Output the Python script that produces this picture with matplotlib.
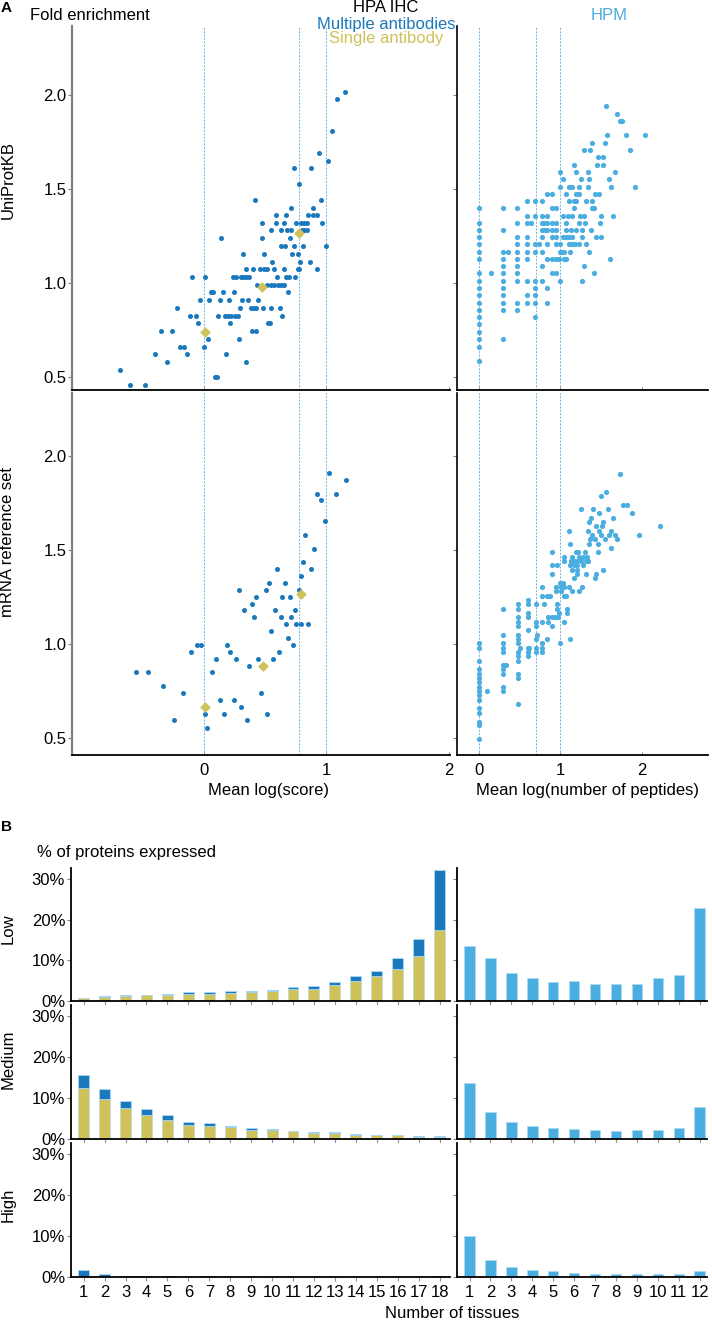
import matplotlib
matplotlib.use("Agg")
import matplotlib.pyplot as plt
import numpy as np

plt.rcParams['font.family'] = ['Liberation Sans', 'DejaVu Sans']

# ---------------- DATA ----------------
# Panel A, HPA IHC (multiple antibodies), UniProtKB rows: y value -> x values
hpa_uni_y = [2.016, 1.977, 1.81, 1.69, 1.647, 1.61, 1.527, 1.443, 1.40, 1.36, 1.32, 1.28,
             1.238, 1.197, 1.156, 1.113, 1.073, 1.032, 0.991, 0.95, 0.908, 0.867, 0.826,
             0.785, 0.744, 0.702, 0.661, 0.621, 0.58, 0.539, 0.498, 0.457]
hpa_uni_x = [[1.148], [1.09], [1.047], [0.937], [1.016], [0.732, 0.872], [0.779],
             [0.413, 0.953], [0.708, 0.893], [0.585, 0.667, 0.85, 0.893, 0.923],
             [0.47, 0.585, 0.65, 0.75, 0.795, 0.82, 0.84, 0.967],
             [0.549, 0.631, 0.678, 0.708, 0.80, 0.82, 0.84],
             [0.139, 0.475, 0.699], [0.628, 0.658, 0.738, 0.811, 0.992],
             [0.32, 0.489, 0.719, 0.768], [0.557, 0.787, 0.861],
             [0.344, 0.396, 0.456, 0.492, 0.514, 0.574, 0.653, 0.768, 0.779, 0.921],
             [-0.098, 0.008, 0.232, 0.262, 0.30, 0.32, 0.344, 0.369, 0.593, 0.669, 0.694, 0.746],
             [0.434, 0.514, 0.549, 0.574, 0.60, 0.628, 0.65],
             [0.052, 0.074, 0.153, 0.246, 0.689],
             [-0.033, 0.041, 0.126, 0.20, 0.311, 0.355, 0.44],
             [-0.224, 0.292, 0.38, 0.404, 0.423, 0.478, 0.543, 0.617],
             [-0.12, -0.068, 0.115, 0.167, 0.194, 0.22, 0.251, 0.275, 0.636],
             [-0.049, 0.21, 0.525, 0.54], [-0.355, -0.262, 0.39, 0.425], [0.027, 0.284],
             [-0.197, -0.17, 0.0], [-0.407, -0.139, 0.175], [-0.303, 0.342], [-0.689],
             [0.085, 0.107], [-0.612, -0.489]]
hpa_uni_single_x = [0.005, 0.475, 0.773]
hpa_uni_single_y = [0.74, 0.98, 1.265]

# Panel A, HPA IHC, mRNA reference set
hpa_mrna_y = [1.911, 1.874, 1.80, 1.764, 1.654, 1.58, 1.507, 1.435, 1.399, 1.362, 1.324,
              1.289, 1.252, 1.214, 1.179, 1.142, 1.105, 1.068, 1.032, 0.995, 0.959, 0.922,
              0.885, 0.849, 0.775, 0.739, 0.702, 0.665, 0.628, 0.595, 0.555]
hpa_mrna_x = [[1.022], [1.158], [0.926, 1.074], [0.953], [0.984], [0.828], [0.896], [0.806],
              [0.593, 0.872], [0.79], [0.533, 0.658], [0.281, 0.503, 0.773],
              [0.421, 0.639, 0.702], [0.388], [0.328, 0.578, 0.743], [0.404, 0.626, 0.713],
              [0.672, 0.754, 0.79, 0.85], [0.547], [0.686], [-0.063, -0.025, 0.189, 0.727],
              [-0.112, 0.213, 0.609], [0.096, 0.26, 0.437, 0.563], [0.366],
              [-0.557, -0.459, 0.063], [-0.342], [-0.175, 0.461], [0.126, 0.24], [0.303],
              [0.005, 0.158, 0.516], [-0.251, 0.349], [0.025]]
hpa_mrna_single_x = [0.005, 0.484, 0.79]
hpa_mrna_single_y = [0.665, 0.885, 1.266]

# Panel A, HPM, UniProtKB
hpm_uni_y = [1.939, 1.900, 1.863, 1.785, 1.746, 1.708, 1.669, 1.630, 1.591, 1.552, 1.513,
             1.476, 1.437, 1.398, 1.359, 1.320, 1.283, 1.244, 1.205, 1.166, 1.127, 1.090,
             1.051, 1.012, 0.973, 0.934, 0.895, 0.858, 0.819, 0.780, 0.741, 0.701, 0.662, 0.586]
hpm_uni_x = [[1.562], [1.693], [1.734, 1.763], [1.579, 1.808, 2.037], [1.387, 1.546],
             [1.297, 1.366, 1.861], [1.468, 1.530], [1.170, 1.448, 1.521],
             [0.994, 1.198, 1.337, 1.669], [1.031, 1.252, 1.358, 1.599],
             [0.994, 1.108, 1.145, 1.227, 1.337, 1.628, 1.922],
             [0.843, 0.900, 1.072, 1.198, 1.227, 1.427, 1.481],
             [0.597, 0.695, 0.773, 1.108, 1.166, 1.194, 1.321, 1.391],
             [0.0, 0.294, 0.474, 0.904, 0.949, 1.170, 1.395, 1.419],
             [0.597, 0.695, 0.773, 0.843, 1.035, 1.100, 1.149, 1.243, 1.292, 1.501, 1.648],
             [0.0, 0.474, 0.597, 0.642, 0.773, 0.802, 0.834, 0.900, 0.949, 1.067, 1.227, 1.309, 1.489],
             [0.0, 0.294, 0.773, 0.814, 0.834, 0.900, 0.949, 1.067, 1.137, 1.194, 1.272, 1.374],
             [0.0, 0.474, 0.597, 0.773, 0.900, 0.949, 1.031, 1.072, 1.104, 1.149, 1.272, 1.444, 1.505],
             [0.0, 0.474, 0.597, 0.695, 0.744, 0.843, 0.949, 0.994, 1.108, 1.145, 1.186, 1.227, 1.317],
             [0.0, 0.294, 0.364, 0.474, 0.597, 0.695, 0.773, 0.994, 1.022, 1.051, 1.121, 1.358],
             [0.0, 0.294, 0.474, 0.597, 0.843, 0.900, 0.949, 0.990, 1.043, 1.072, 1.616],
             [0.294, 0.474, 0.773, 1.297],
             [0.0, 0.147, 0.294, 0.474, 0.900, 0.949, 1.411],
             [0.0, 0.294, 0.474, 0.597, 0.695, 0.773, 0.994, 1.272],
             [0.0, 0.294, 0.695, 0.843], [0.0, 0.294, 0.597, 0.695],
             [0.0, 0.294, 0.474, 0.597, 0.695, 0.843], [0.0, 0.294, 0.474], [0.0, 0.695],
             [0.0], [0.0], [0.0, 0.294], [0.0], [0.0]]

# Panel A, HPM, mRNA reference set
hpm_mrna_y = [1.902, 1.809, 1.787, 1.741, 1.718, 1.695, 1.672, 1.649, 1.626, 1.603, 1.580,
              1.557, 1.534, 1.511, 1.488, 1.465, 1.441, 1.418, 1.395, 1.372, 1.349, 1.326,
              1.303, 1.280, 1.257, 1.234, 1.211, 1.188, 1.165, 1.142, 1.119, 1.096, 1.073,
              1.050, 1.027, 1.004, 0.980, 0.957, 0.934, 0.911, 0.888, 0.865, 0.842, 0.819,
              0.796, 0.773, 0.750, 0.727, 0.704, 0.681, 0.658, 0.635, 0.587, 0.569, 0.495]
hpm_mrna_x = [[1.734], [1.562], [1.501], [1.767, 1.820], [1.260, 1.407, 1.583], [1.476, 1.881],
              [1.378, 1.652], [1.350, 1.530], [1.444, 1.513, 2.225], [1.112, 1.342, 1.476, 1.628],
              [1.391, 1.497, 1.603, 1.677, 1.971], [1.362, 1.431, 1.546, 1.701],
              [1.117, 1.358, 1.464], [1.620], [0.904, 1.198, 1.219, 1.301, 1.460],
              [1.043, 1.149, 1.235, 1.280, 1.333],
              [1.043, 1.129, 1.170, 1.207, 1.256, 1.313, 1.342],
              [0.904, 0.957, 1.117, 1.170, 1.211, 1.276], [1.149, 1.202, 1.521],
              [0.904, 1.202, 1.321, 1.440], [1.174, 1.427], [0.994, 1.039],
              [0.781, 0.953, 1.006, 1.051, 1.104, 1.272], [0.953, 1.006, 1.145, 1.235],
              [0.781, 0.843, 0.871, 1.047, 1.072], [0.601],
              [0.479, 0.601, 0.703, 0.806, 0.957], [0.303, 0.479, 0.957, 1.080],
              [0.601, 0.990, 1.080], [0.479, 0.601, 0.847, 0.900, 0.933, 0.973],
              [0.479, 0.703, 0.777, 0.847, 1.043], [0.479, 0.703, 0.900], [0.601],
              [0.303, 0.479, 0.712], [0.479, 0.703, 0.843, 1.117],
              [0.0, 0.303, 0.479, 0.777, 1.002], [0.0, 0.303, 0.503, 0.601, 0.622, 0.703, 0.777],
              [0.303, 0.479, 0.601, 0.703, 0.777], [0.479, 0.601], [0.0, 0.479],
              [0.303, 0.331], [0.0, 0.303], [0.0, 0.303, 0.479], [0.0, 0.479], [0.0],
              [0.0, 0.303], [0.0, 0.102, 0.303], [0.0], [0.0], [0.479], [0.0], [0.0],
              [0.0], [0.0], [0.0]]

hpa_guides = [0.0, 0.778, 1.0]
hpm_guides = [0.0, 0.699, 1.0]

# Panel B: % of proteins expressed
hpa_tissues = list(range(1, 19))
low_total = [0.8, 1.2, 1.6, 1.6, 1.8, 2.1, 2.2, 2.4, 2.5, 2.8, 3.4, 3.7, 4.8, 6.1, 7.5, 10.5, 15.3, 32.4]
low_single = [0.7, 1.0, 1.3, 1.5, 1.6, 1.7, 1.8, 2.0, 2.1, 2.4, 2.9, 3.0, 4.0, 4.9, 6.2, 8.0, 11.0, 17.5]
med_total = [15.6, 12.2, 9.2, 7.3, 5.8, 4.2, 3.9, 3.3, 2.6, 2.4, 2.0, 1.7, 1.6, 1.2, 1.0, 1.0, 0.65, 0.7]
med_single = [12.6, 9.9, 7.5, 5.9, 4.7, 3.4, 3.3, 2.9, 2.2, 2.1, 1.9, 1.5, 1.4, 1.1, 0.9, 0.9, 0.5, 0.4]
high_total = [1.7, 0.75, 0.3, 0.25, 0.2, 0.12, 0.15, 0.12, 0.12, 0.1, 0.12, 0.12, 0.12, 0.1, 0.1, 0.1, 0.1, 0.15]
high_single = [0.05, 0.03, 0.02, 0.02, 0.02, 0.02, 0.02, 0.02, 0.02, 0.02, 0.02, 0.02, 0.02, 0.02, 0.02, 0.02, 0.02, 0.02]

hpm_tissues = list(range(1, 13))
hpm_low = [13.5, 10.7, 7.0, 5.7, 4.8, 5.0, 4.2, 4.2, 4.1, 5.7, 6.4, 23.0]
hpm_med = [13.8, 6.6, 4.2, 3.3, 2.6, 2.4, 2.1, 2.0, 2.1, 2.3, 2.6, 7.8]
hpm_high = [10.0, 4.2, 2.4, 1.7, 1.35, 0.9, 0.7, 0.7, 0.7, 0.7, 0.85, 1.5]

# ---------------- STYLE ----------------
C_MULTI = '#1b78bd'
C_SINGLE = '#cfc25a'
C_HPM = '#4aaee0'
C_GUIDE = '#6cb6df'
C_EDGE = '#a9daf2'
FS = 12

W, H = 712, 1323
fig = plt.figure(figsize=(W / 100, H / 100), dpi=100)


def ax_px(x0, y0, x1, y1):
    return fig.add_axes([x0 / W, 1 - y1 / H, (x1 - x0) / W, (y1 - y0) / H])


def txt(x, y, s, **kw):
    fig.text(x / W, 1 - y / H, s, **kw)


def flatten(ys, xs):
    fx, fy = [], []
    for y, row in zip(ys, xs):
        for x in row:
            fx.append(x)
            fy.append(y)
    return fx, fy


def style_scatter(ax, left_gray):
    for s in ['top', 'right']:
        ax.spines[s].set_visible(False)
    ax.spines['left'].set_color('#808080' if left_gray else 'black')
    ax.spines['left'].set_linewidth(1.6 if left_gray else 1.2)
    ax.spines['bottom'].set_color('black')
    ax.spines['bottom'].set_linewidth(1.3)
    ax.tick_params(axis='y', direction='out', length=3, color='#808080', labelsize=FS, pad=1)
    ax.tick_params(axis='x', direction='in', length=2, color='#808080', labelsize=FS, pad=6)


# Scatter panels
tl = ax_px(72, 26, 450, 390)
bl = ax_px(72, 393, 450, 755)
tr = ax_px(457, 26, 708, 390)
br = ax_px(457, 393, 708, 755)

for ax, ys, xs, sx, sy in [(tl, hpa_uni_y, hpa_uni_x, hpa_uni_single_x, hpa_uni_single_y),
                           (bl, hpa_mrna_y, hpa_mrna_x, hpa_mrna_single_x, hpa_mrna_single_y)]:
    for g in hpa_guides:
        ax.axvline(g, color=C_GUIDE, lw=0.7, ls=(0, (2, 1.5)), zorder=1)
    fx, fy = flatten(ys, xs)
    ax.scatter(fx, fy, s=13, color=C_MULTI, linewidths=0, zorder=3)
    ax.scatter(sx, sy, s=30, marker='D', color=C_SINGLE, linewidths=0, zorder=4)
    ax.set_xlim(-1.083, 2.011)
    style_scatter(ax, True)

for ax, ys, xs in [(tr, hpm_uni_y, hpm_uni_x), (br, hpm_mrna_y, hpm_mrna_x)]:
    for g in hpm_guides:
        ax.axvline(g, color=C_GUIDE, lw=0.7, ls=(0, (2, 1.5)), zorder=1)
    fx, fy = flatten(ys, xs)
    ax.scatter(fx, fy, s=14, color=C_HPM, linewidths=0, zorder=3)
    ax.set_xlim(-0.266, 2.813)
    style_scatter(ax, False)

tl.set_ylim(0.431, 2.367)
tr.set_ylim(0.431, 2.367)
bl.set_ylim(0.41, 2.335)
br.set_ylim(0.41, 2.335)
for ax in (tl, tr, bl, br):
    ax.set_yticks([0.5, 1.0, 1.5, 2.0])
    ax.set_xticks([0, 1, 2])
for ax in (tl, bl):
    ax.set_yticklabels(['0.5', '1.0', '1.5', '2.0'])
for ax in (tr, br):
    ax.set_yticklabels([])
for ax in (tl, tr):
    ax.set_xticklabels([])
bl.set_xticklabels(['0', '1', '2'])
br.set_xticklabels(['0', '1', '2'])

# Bar panels
rows_left = [(868, 1001), (1005, 1139), (1143, 1277)]
left_data = [(low_total, low_single), (med_total, med_single), (high_total, high_single)]
right_data = [hpm_low, hpm_med, hpm_high]
YMAX = 32.8


def style_bar(ax, show_ylabels):
    for s in ['top', 'right']:
        ax.spines[s].set_visible(False)
    ax.spines['left'].set_color('black')
    ax.spines['left'].set_linewidth(1.3)
    ax.spines['bottom'].set_color('black')
    ax.spines['bottom'].set_linewidth(1.3)
    ax.set_ylim(0, YMAX)
    ax.set_yticks([0, 10, 20, 30])
    if show_ylabels:
        ax.set_yticklabels(['0%', '10%', '20%', '30%'])
    else:
        ax.set_yticklabels([])
    ax.tick_params(axis='y', direction='out', length=3, color='#808080', labelsize=FS, pad=1)
    ax.tick_params(axis='x', direction='out', length=3, color='#909090', labelsize=FS, pad=3)


for i, (y0, y1) in enumerate(rows_left):
    axl = ax_px(70.7, y0, 450, y1)
    tot, sing = left_data[i]
    multi = [t - s for t, s in zip(tot, sing)]
    axl.bar(hpa_tissues, sing, width=0.52, color=C_SINGLE, edgecolor=C_EDGE, linewidth=0.4, zorder=2)
    axl.bar(hpa_tissues, multi, bottom=sing, width=0.52, color=C_MULTI, edgecolor=C_EDGE,
            linewidth=0.6, zorder=2)
    axl.set_xlim(0.38, 18.5)
    axl.set_xticks(hpa_tissues)
    style_bar(axl, True)
    if i < 2:
        axl.set_xticklabels([])
    else:
        axl.set_xticklabels([str(t) for t in hpa_tissues])

    axr = ax_px(457, y0, 707, y1)
    axr.bar(hpm_tissues, right_data[i], width=0.5, color=C_HPM, edgecolor=C_EDGE, linewidth=0.6,
            zorder=2)
    axr.set_xlim(0.4, 12.35)
    axr.set_xticks(hpm_tissues)
    style_bar(axr, False)
    if i < 2:
        axr.set_xticklabels([])
    else:
        axr.set_xticklabels([str(t) for t in hpm_tissues])

# Texts
txt(1, 8, 'A', fontsize=11, fontweight='bold', ha='left', va='center')
txt(30, 16, 'Fold enrichment', fontsize=FS, ha='left', va='center')
txt(386, 7, 'HPA IHC', fontsize=FS, ha='center', va='center')
txt(386, 24, 'Multiple antibodies', fontsize=FS, ha='center', va='center', color=C_MULTI)
txt(386, 39, 'Single antibody', fontsize=FS, ha='center', va='center', color=C_SINGLE)
txt(609, 16, 'HPM', fontsize=FS, ha='center', va='center', color=C_HPM)
txt(8, 180, 'UniProtKB', fontsize=FS, ha='center', va='center', rotation=90)
txt(8, 542, 'mRNA reference set', fontsize=FS, ha='center', va='center', rotation=90)
txt(268, 791, 'Mean log(score)', fontsize=FS, ha='center', va='center')
txt(588, 791, 'Mean log(number of peptides)', fontsize=FS, ha='center', va='center')
txt(1, 827, 'B', fontsize=11, fontweight='bold', ha='left', va='center')
txt(37, 853, '% of proteins expressed', fontsize=FS, ha='left', va='center')
txt(8, 929, 'Low', fontsize=FS, ha='center', va='center', rotation=90)
txt(8, 1059, 'Medium', fontsize=FS, ha='center', va='center', rotation=90)
txt(8, 1205, 'High', fontsize=FS, ha='center', va='center', rotation=90)
txt(452, 1314, 'Number of tissues', fontsize=FS, ha='center', va='center')

fig.savefig('out.png', dpi=100)
